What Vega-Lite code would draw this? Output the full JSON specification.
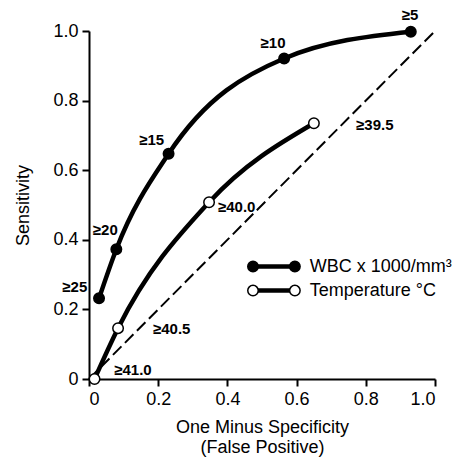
{
  "$schema": "https://vega.github.io/schema/vega-lite/v6.json",
  "width": 346,
  "height": 348,
  "autosize": "none",
  "padding": {"left": 89, "top": 31, "right": 30, "bottom": 78},
  "background": "white",
  "config": {
    "view": {"stroke": null},
    "font": "Liberation Sans",
    "axis": {
      "grid": false,
      "domainColor": "black",
      "domainWidth": 2,
      "tickColor": "black",
      "tickWidth": 2,
      "tickSize": 7,
      "labelColor": "black",
      "labelFontSize": 18,
      "labelFont": "Liberation Sans",
      "titleColor": "black",
      "titleFont": "Liberation Sans",
      "titleFontSize": 18,
      "titleFontWeight": "normal"
    }
  },
  "datasets": {
    "curves": [
      {"series": "WBC", "x": 0.029, "y": 0.232, "label": "≥25", "lx": -0.041, "ly": 0.264},
      {"series": "WBC", "x": 0.079, "y": 0.373, "label": "≥20", "lx": 0.047, "ly": 0.428},
      {"series": "WBC", "x": 0.23, "y": 0.647, "label": "≥15", "lx": 0.181, "ly": 0.687},
      {"series": "WBC", "x": 0.564, "y": 0.921, "label": "≥10", "lx": 0.532, "ly": 0.966},
      {"series": "WBC", "x": 0.93, "y": 0.998, "label": "≥5", "lx": 0.928, "ly": 1.046},
      {"series": "Temp", "x": 0.016, "y": 0.0, "label": "≥41.0", "lx": 0.127, "ly": 0.026},
      {"series": "Temp", "x": 0.084, "y": 0.146, "label": "≥40.5", "lx": 0.239, "ly": 0.144},
      {"series": "Temp", "x": 0.347, "y": 0.508, "label": "≥40.0", "lx": 0.427, "ly": 0.494},
      {"series": "Temp", "x": 0.65, "y": 0.735, "label": "≥39.5", "lx": 0.826, "ly": 0.73}
    ],
    "diag": [
      {"x": 0, "y": 0},
      {"x": 1, "y": 1}
    ],
    "legend": [
      {"series": "WBC", "x": 0.474, "y": 0.323},
      {"series": "WBC", "x": 0.595, "y": 0.323},
      {"series": "Temp", "x": 0.474, "y": 0.254},
      {"series": "Temp", "x": 0.595, "y": 0.254}
    ],
    "legendText": [
      {"x": 0.638, "y": 0.323, "text": "WBC x 1000/mm³"},
      {"x": 0.638, "y": 0.254, "text": "Temperature °C"}
    ]
  },
  "layer": [
    {
      "data": {"name": "diag"},
      "mark": {"type": "line", "color": "black", "strokeWidth": 2, "strokeDash": [12, 5]},
      "encoding": {
        "x": {
          "field": "x", "type": "quantitative",
          "scale": {"domain": [0, 1], "nice": false, "zero": false},
          "axis": {
            "values": [0, 0.2, 0.4, 0.6, 0.8, 1.0],
            "labelExpr": "datum.value == 0 ? '0' : format(datum.value, '.1f')",
            "labelPadding": 4,
            "title": ["One Minus Specificity", "(False Positive)"],
            "titlePadding": 10,
            "titleLineHeight": 20
          }
        },
        "y": {
          "field": "y", "type": "quantitative",
          "scale": {"domain": [0, 1], "nice": false, "zero": false},
          "axis": {
            "values": [0, 0.2, 0.4, 0.6, 0.8, 1.0],
            "labelExpr": "datum.value == 0 ? '0' : format(datum.value, '.1f')",
            "labelPadding": 4,
            "title": "Sensitivity",
            "titlePadding": 20
          }
        }
      }
    },
    {
      "data": {"name": "curves"},
      "mark": {"type": "line", "color": "black", "strokeWidth": 4.5, "interpolate": "monotone"},
      "encoding": {
        "x": {"field": "x", "type": "quantitative"},
        "y": {"field": "y", "type": "quantitative"},
        "detail": {"field": "series"},
        "order": {"field": "x", "type": "quantitative"}
      }
    },
    {
      "data": {"name": "curves"},
      "mark": {"type": "point", "filled": false, "size": 110, "stroke": "black", "strokeWidth": 1.5, "opacity": 1},
      "encoding": {
        "x": {"field": "x", "type": "quantitative"},
        "y": {"field": "y", "type": "quantitative"},
        "fill": {"field": "series", "type": "nominal", "scale": {"domain": ["WBC", "Temp"], "range": ["black", "white"]}, "legend": null}
      }
    },
    {
      "data": {"name": "curves"},
      "mark": {"type": "text", "fontSize": 15, "fontWeight": "bold", "color": "black", "align": "center", "baseline": "middle"},
      "encoding": {
        "x": {"field": "lx", "type": "quantitative"},
        "y": {"field": "ly", "type": "quantitative"},
        "text": {"field": "label"}
      }
    },
    {
      "data": {"name": "legend"},
      "mark": {"type": "line", "color": "black", "strokeWidth": 4.5},
      "encoding": {
        "x": {"field": "x", "type": "quantitative"},
        "y": {"field": "y", "type": "quantitative"},
        "detail": {"field": "series"}
      }
    },
    {
      "data": {"name": "legend"},
      "mark": {"type": "point", "filled": false, "size": 110, "stroke": "black", "strokeWidth": 1.5, "opacity": 1},
      "encoding": {
        "x": {"field": "x", "type": "quantitative"},
        "y": {"field": "y", "type": "quantitative"},
        "fill": {"field": "series", "type": "nominal", "scale": {"domain": ["WBC", "Temp"], "range": ["black", "white"]}, "legend": null}
      }
    },
    {
      "data": {"name": "legendText"},
      "mark": {"type": "text", "fontSize": 18, "color": "black", "align": "left", "baseline": "middle"},
      "encoding": {
        "x": {"field": "x", "type": "quantitative"},
        "y": {"field": "y", "type": "quantitative"},
        "text": {"field": "text"}
      }
    }
  ]
}
